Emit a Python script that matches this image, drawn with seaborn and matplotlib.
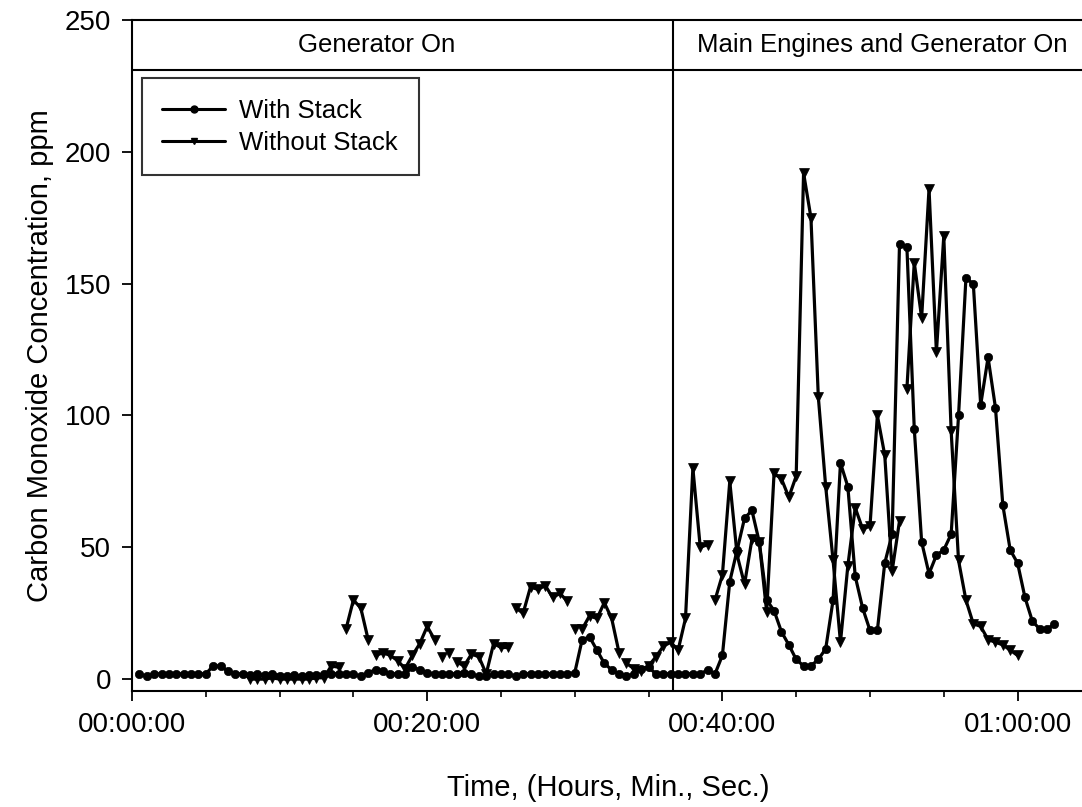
import numpy as np
import pandas as pd
import matplotlib
matplotlib.use("Agg")
import matplotlib.pyplot as plt
import seaborn as sns
from matplotlib.lines import Line2D
from matplotlib.ticker import MultipleLocator

sns.set_theme(style="white")
plt.rcParams["font.family"] = ["Liberation Sans", "DejaVu Sans"]
plt.rcParams["text.color"] = "black"
plt.rcParams["axes.labelcolor"] = "black"

# ---------------- data (minutes, ppm) ----------------
with_start = 0.5
without_start = 8.0
sample_step = 0.5

with_stack = [
    2, 1, 2, 2, 2, 2, 2, 2, 2, 2,            # 0.5 - 5.0
    5, 5, 3, 2, 2, 1.5, 2, 1.5, 2, 1,        # 5.5 - 10.0
    1, 1.5, 1, 1.5, 1.5, 2, 2, 2, 2, 2,      # 10.5 - 15.0
    1, 2.5, 3.5, 3, 2, 2, 2, 4.5, 3.5, 2.5,  # 15.5 - 20.0
    2, 2, 2, 2, 2.5, 2, 1, 1, 2, 2,          # 20.5 - 25.0
    2, 1, 2, 2, 2, 2, 2, 2, 2, 2.5,          # 25.5 - 30.0
    15, 16, 11, 6, 3.5, 2, 1, 2, 4, 4.5,     # 30.5 - 35.0
    2, 2, 2, 2, 2, 2, 2, 3.5, 2, 9,          # 35.5 - 40.0
    37, 49, 61, 64, 52, 30, 26, 18, 13, 7.5, # 40.5 - 45.0
    5, 5, 7.5, 11.5, 30, 82, 73, 39, 27, 18.5,   # 45.5 - 50.0
    18.5, 44, 55, 165, 164, 95, 52, 40, 47, 49,  # 50.5 - 55.0
    55, 100, 152, 150, 104, 122, 103, 66, 49, 44,  # 55.5 - 60.0
    31, 22, 19, 19, 21,                        # 60.5 - 62.5
]

without_stack = [
    0, 0, 0, 0.5, 0, 0, 0, 0, 0, 0.5,          # 8.0 - 12.5
    0.5, 5, 4.5, 19, 30, 27, 15, 9, 10, 9,     # 13.0 - 17.5
    7, 4, 9, 13.5, 20, 15, 8.5, 10, 6.5, 5,    # 18.0 - 22.5
    9.5, 8.5, 2, 13.5, 12, 12, 27, 25, 35, 34, # 23.0 - 27.5
    35.5, 31, 32.5, 29.5, 19, 19, 24, 23, 29, 23,  # 28.0 - 32.5
    10, 6, 4, 3, 5, 8.5, 12.5, 14, 11, 23,     # 33.0 - 37.5
    80, 50, 51, 30, 39.5, 75, 47, 36, 53, 52,  # 38.0 - 42.5
    25.5, 78, 76, 69, 77, 192, 175, 107, 73, 45,   # 43.0 - 47.5
    14, 43, 65, 57, 58, 100, 85, 41, 60, 110,  # 48.0 - 52.5
    158, 137, 186, 124, 168, 94, 45, 30, 21, 20,   # 53.0 - 57.5
    15, 14, 13, 11, 9,                          # 58.0 - 60.0
]
# the "Without Stack" trace is broken after these samples in the original
without_breaks = [14.0, 16.0, 20.5, 21.0, 21.5, 25.5, 29.5, 30.0, 33.0,
                  39.0, 52.0]

series_names = ["With Stack", "Without Stack"]
x_ticks = [0, 20, 40, 60]
x_tick_labels = ["00:00:00", "00:20:00", "00:40:00", "01:00:00"]
y_ticks = [0, 50, 100, 150, 200, 250]
phase_labels = ["Generator On", "Main Engines and Generator On"]
phase_label_x = [16.6, 50.8]
phase_change = 36.67
header_level = 231

# ---------------- frames ----------------
df_with = pd.DataFrame({
    "t": with_start + sample_step * np.arange(len(with_stack)),
    "v": with_stack,
})
t_wo = without_start + sample_step * np.arange(len(without_stack))
df_wo = pd.DataFrame({
    "t": t_wo,
    "v": without_stack,
    "seg": np.searchsorted(np.array(without_breaks), t_wo, side="left"),
})

# ---------------- figure ----------------
fig = plt.figure(figsize=(10.82, 8.07), dpi=100)
ax = fig.add_axes([132 / 1082, 1 - 691 / 807, 952 / 1082, 671 / 807])

sns.lineplot(data=df_with, x="t", y="v", estimator=None, color="black",
             lw=2.3, marker="o", markersize=6, markeredgecolor="black",
             markeredgewidth=0.5, legend=False, ax=ax)
sns.lineplot(data=df_wo, x="t", y="v", units="seg", estimator=None,
             color="black", lw=2.3, marker="v", markersize=7,
             markeredgecolor="black", markeredgewidth=0.5, legend=False, ax=ax)

ax.set_xlim(0, 64.5)
ax.set_ylim(-4.5, 250)

ax.axhline(header_level, color="black", lw=1.5)
ax.axvline(phase_change, color="black", lw=1.5)
for lab, xx in zip(phase_labels, phase_label_x):
    ax.text(xx, 240.5, lab, ha="center", va="center", fontsize=18.5, color="black")

ax.set_xticks(x_ticks, x_tick_labels)
ax.set_yticks(y_ticks)
ax.xaxis.set_minor_locator(MultipleLocator(5))
ax.tick_params(axis="both", which="major", direction="out", length=7,
               width=1.3, color="black", labelsize=20, labelcolor="black",
               bottom=True, left=True)
ax.tick_params(axis="x", which="minor", direction="out", length=4,
               width=1.2, color="black", bottom=True)
ax.tick_params(axis="x", which="major", pad=8)
ax.tick_params(axis="y", which="major", pad=8)

for side in ["left", "bottom", "top"]:
    ax.spines[side].set_color("black")
    ax.spines[side].set_linewidth(1.5)
ax.spines["right"].set_visible(False)

ax.set_xlabel("Time, (Hours, Min., Sec.)", fontsize=21, color="black", labelpad=26)
ax.set_ylabel("Carbon Monoxide Concentration, ppm", fontsize=21, color="black", labelpad=8)

handles = [
    Line2D([], [], color="black", lw=2.2, marker="o", markersize=5),
    Line2D([], [], color="black", lw=2.2, marker="v", markersize=5),
]
leg = ax.legend(handles, series_names, loc="upper left",
                bbox_to_anchor=(9.7 / 952, 1 - 58.3 / 671), borderaxespad=0,
                fontsize=18.5, frameon=True, fancybox=False, edgecolor="black",
                handlelength=2.45, handletextpad=0.55, borderpad=0.8,
                labelspacing=0.3)
leg.get_frame().set_linewidth(1.5)
for txt in leg.get_texts():
    txt.set_color("black")

fig.savefig("out.png", dpi=100)
